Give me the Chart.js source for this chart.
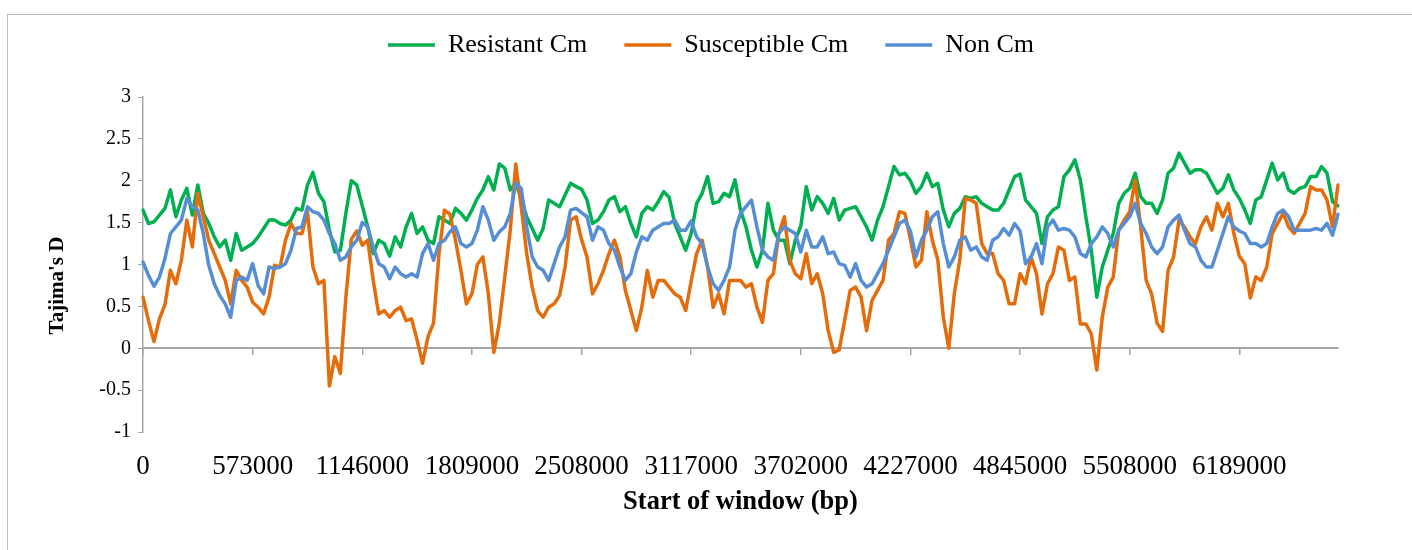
<!DOCTYPE html>
<html><head><meta charset="utf-8">
<script src="https://cdn.jsdelivr.net/npm/chart.js@4.4.1/dist/chart.umd.min.js"></script>
<style>
html,body{margin:0;padding:0;background:#fff;}
#wrap{position:relative;width:1412px;height:550px;overflow:hidden;background:#fff;}
#frame{position:absolute;left:7px;top:14px;width:1500px;height:600px;border-top:1px solid #bdbdbd;border-left:1px solid #bdbdbd;}
canvas{position:absolute;left:0;top:0;}
</style></head><body>
<div id="wrap"><div id="frame"></div><canvas id="c" width="1412" height="550"></canvas></div>
<script>
const tickLabels = ['0','573000','1146000','1809000','2508000','3117000','3702000','4227000','4845000','5508000','6189000'];
const TICK_EVERY = 20;

const resistantCm = [
1.65,1.49,1.51,1.59,1.67,1.89,1.57,1.77,1.91,1.59,1.95,1.61,1.49,1.33,1.21,1.29,1.05,1.37,1.17,1.21,
1.25,1.33,1.43,1.53,1.53,1.49,1.47,1.53,1.67,1.65,1.95,2.1,1.85,1.75,1.41,1.15,1.17,1.61,2.0,1.95,
1.7,1.45,1.13,1.29,1.25,1.1,1.33,1.21,1.45,1.61,1.37,1.45,1.29,1.25,1.57,1.53,1.49,1.67,1.61,1.53,
1.65,1.79,1.89,2.05,1.89,2.2,2.15,1.89,1.97,1.79,1.57,1.43,1.29,1.43,1.77,1.73,1.69,1.83,1.97,1.93,
1.9,1.77,1.49,1.53,1.63,1.77,1.81,1.63,1.69,1.49,1.33,1.61,1.69,1.65,1.75,1.87,1.8,1.49,1.33,1.17,
1.37,1.73,1.85,2.05,1.73,1.75,1.85,1.81,2.01,1.65,1.45,1.17,0.97,1.17,1.73,1.41,1.29,1.29,1.01,1.29,
1.46,1.93,1.65,1.81,1.73,1.61,1.79,1.53,1.65,1.67,1.69,1.57,1.45,1.29,1.53,1.69,1.93,2.17,2.07,2.09,
2.0,1.85,1.93,2.09,1.93,1.97,1.65,1.45,1.61,1.67,1.81,1.79,1.81,1.73,1.69,1.65,1.65,1.73,1.89,2.05,
2.08,1.77,1.69,1.61,1.25,1.57,1.65,1.69,2.05,2.13,2.25,2.01,1.57,1.17,0.61,0.97,1.17,1.37,1.73,1.85,
1.91,2.09,1.81,1.73,1.73,1.61,1.77,2.09,2.15,2.33,2.21,2.09,2.13,2.13,2.09,1.97,1.85,1.91,2.07,1.89,
1.79,1.65,1.49,1.77,1.81,2.01,2.21,2.01,2.09,1.89,1.85,1.91,1.93,2.05,2.05,2.17,2.09,1.75,1.7
];
const susceptibleCm = [
0.61,0.33,0.08,0.35,0.52,0.93,0.77,1.05,1.53,1.21,1.85,1.57,1.29,1.13,0.97,0.81,0.53,0.93,0.81,0.73,
0.55,0.49,0.41,0.61,0.99,0.97,1.29,1.49,1.37,1.37,1.63,0.97,0.77,0.81,-0.45,-0.1,-0.3,0.6,1.3,1.4,
1.23,1.29,0.81,0.41,0.45,0.37,0.45,0.49,0.33,0.35,0.1,-0.18,0.14,0.3,1.13,1.65,1.6,1.29,0.93,0.53,
0.65,1.0,1.09,0.65,-0.05,0.3,0.85,1.41,2.2,1.69,1.13,0.73,0.45,0.37,0.49,0.53,0.63,0.97,1.53,1.57,
1.3,1.09,0.65,0.77,0.93,1.13,1.29,1.09,0.69,0.45,0.21,0.49,0.93,0.61,0.81,0.81,0.73,0.65,0.61,0.45,
0.8,1.13,1.29,0.97,0.49,0.65,0.41,0.81,0.81,0.81,0.73,0.77,0.49,0.31,0.81,0.89,1.37,1.57,1.05,0.89,
0.83,1.13,0.77,0.89,0.65,0.21,-0.05,-0.02,0.33,0.69,0.73,0.61,0.21,0.57,0.69,0.81,1.29,1.37,1.63,1.61,
1.3,0.97,1.05,1.63,1.29,1.05,0.37,0.0,0.65,1.05,1.79,1.77,1.73,1.25,1.13,1.13,0.89,0.81,0.53,0.53,
0.89,0.77,1.09,0.89,0.41,0.77,0.89,1.21,1.17,0.81,0.85,0.29,0.29,0.17,-0.26,0.37,0.73,0.85,1.41,1.53,
1.63,2.01,1.45,0.81,0.65,0.3,0.2,0.93,1.09,1.53,1.45,1.33,1.25,1.45,1.57,1.41,1.73,1.57,1.73,1.37,
1.1,1.01,0.6,0.85,0.81,0.97,1.37,1.49,1.61,1.45,1.37,1.49,1.61,1.93,1.89,1.89,1.77,1.45,1.95
];
const nonCm = [
1.03,0.87,0.74,0.85,1.07,1.37,1.45,1.53,1.79,1.69,1.65,1.37,0.99,0.77,0.63,0.53,0.37,0.81,0.85,0.81,
1.01,0.75,0.65,0.97,0.95,0.97,1.01,1.17,1.43,1.45,1.69,1.63,1.61,1.53,1.37,1.25,1.05,1.09,1.21,1.29,
1.5,1.45,1.21,1.01,0.97,0.83,0.97,0.89,0.85,0.89,0.85,1.13,1.25,1.05,1.25,1.29,1.39,1.45,1.25,1.21,
1.25,1.41,1.69,1.53,1.29,1.39,1.45,1.61,1.97,1.91,1.45,1.09,0.97,0.93,0.81,1.01,1.21,1.33,1.65,1.67,
1.62,1.57,1.29,1.45,1.41,1.25,1.17,0.97,0.81,0.89,1.15,1.33,1.29,1.41,1.45,1.49,1.49,1.53,1.41,1.41,
1.52,1.33,1.25,0.97,0.77,0.69,0.81,0.97,1.41,1.61,1.69,1.77,1.45,1.17,1.09,1.05,1.37,1.45,1.41,1.37,
1.15,1.41,1.21,1.21,1.33,1.13,1.15,1.01,0.99,0.85,1.01,0.81,0.73,0.77,0.89,1.01,1.17,1.33,1.49,1.53,
1.4,1.09,1.29,1.41,1.57,1.63,1.25,0.97,1.09,1.29,1.33,1.17,1.21,1.09,1.05,1.29,1.33,1.43,1.35,1.49,
1.4,1.01,1.09,1.25,1.01,1.45,1.53,1.41,1.43,1.41,1.33,1.13,1.09,1.25,1.33,1.45,1.37,1.21,1.41,1.49,
1.57,1.73,1.49,1.37,1.21,1.13,1.21,1.45,1.53,1.59,1.41,1.25,1.21,1.05,0.97,0.97,1.17,1.37,1.57,1.45,
1.4,1.37,1.25,1.25,1.21,1.25,1.45,1.61,1.65,1.57,1.41,1.41,1.41,1.41,1.43,1.41,1.49,1.35,1.6
];
const categories = resistantCm.map((_, i) => i);

const serif = "'Liberation Serif', 'Times New Roman', serif";
Chart.defaults.font.family = serif;
Chart.defaults.color = '#000';
const axisGray = '#a6a6a6';
const keepLabelTicks = (s) => { s.ticks = s.ticks.filter(t => t.value % TICK_EVERY === 0); };

new Chart(document.getElementById('c'), {
  type: 'line',
  data: {
    labels: categories,
    datasets: [
      {label: 'Resistant Cm', data: resistantCm, borderColor: '#00B050', backgroundColor: '#00B050', borderWidth: 3.5, order: 3, xAxisID: 'x', yAxisID: 'y'},
      {label: 'Susceptible Cm', data: susceptibleCm, borderColor: '#E46C0A', backgroundColor: '#E46C0A', borderWidth: 3.5, order: 2, xAxisID: 'x', yAxisID: 'y'},
      {label: 'Non Cm', data: nonCm, borderColor: '#558ED5', backgroundColor: '#558ED5', borderWidth: 3.5, order: 1, xAxisID: 'x', yAxisID: 'y'}
    ]
  },
  options: {
    responsive: false,
    animation: false,
    devicePixelRatio: 1,
    layout: {padding: {left: 10, right: 0, top: -5, bottom: 0}},
    elements: {point: {radius: 0, hoverRadius: 0}, line: {tension: 0, borderJoinStyle: 'round', borderCapStyle: 'round'}},
    plugins: {
      legend: {
        position: 'top',
        labels: {
          usePointStyle: true, pointStyle: 'line', pointStyleWidth: 47,
          padding: 37, font: {size: 26}, color: '#000',
          sort: (a, b) => a.datasetIndex - b.datasetIndex
        }
      },
      title: {display: true, text: ' ', weight: 500, padding: {top: 28, bottom: 0}, font: {size: 1, lineHeight: 1}},
      tooltip: {enabled: false}
    },
    scales: {
      x: {
        type: 'category', position: {y: 0},
        grid: {display: true, drawOnChartArea: false, drawTicks: true, tickLength: 6, color: axisGray, lineWidth: 1.5},
        border: {display: true, color: axisGray, width: 2},
        ticks: {display: false, autoSkip: false, maxRotation: 0},
        afterBuildTicks: keepLabelTicks
      },
      x2: {
        type: 'category', position: 'bottom',
        grid: {display: false, drawTicks: false},
        border: {display: false},
        ticks: {autoSkip: false, maxRotation: 0, minRotation: 0, padding: 19, font: {size: 27}, color: '#000',
                callback: (v) => tickLabels[v / TICK_EVERY]},
        afterBuildTicks: keepLabelTicks,
        title: {display: true, text: 'Start of window (bp)', font: {size: 26.5, weight: 'bold'}, color: '#000', padding: {top: 0, bottom: 32}},
        afterFit: (s) => { s.height = 118; }
      },
      y: {
        type: 'linear', position: 'left', min: -1, max: 3,
        ticks: {stepSize: 0.5, padding: 7, font: {size: 20}, color: '#000', callback: (v) => String(v)},
        grid: {drawOnChartArea: false, drawTicks: true, tickLength: 5, color: axisGray},
        border: {color: axisGray, width: 1.5},
        title: {display: true, text: "Tajima's D        ", font: {size: 21, weight: 'bold'}, color: '#000', padding: {top: 35, bottom: 0}},
        afterFit: (s) => { s.width = 133; }
      },
      yRight: {
        type: 'linear', position: 'right', display: true,
        ticks: {display: false}, grid: {display: false}, border: {display: false},
        afterFit: (s) => { s.width = 74; }
      }
    }
  }
});
</script>
</body></html>
